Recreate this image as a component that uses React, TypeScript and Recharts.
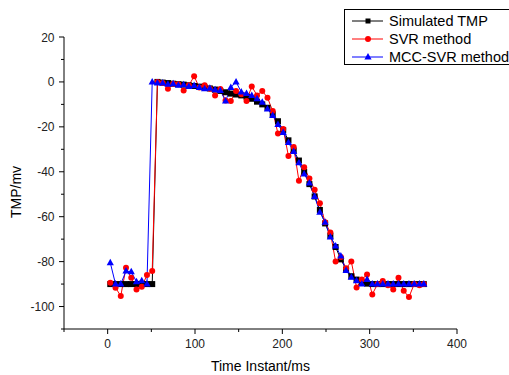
import React from 'react';
import { LineChart, Line, XAxis, YAxis, Legend } from 'recharts';

// time instants (ms)
const timeMs = [
  3, 9, 15, 21, 27, 33, 39, 45, 51, 57,
  63, 69, 75, 81, 87, 93, 99, 105, 111, 117,
  123, 129, 135, 141, 147, 153, 159, 165, 171, 177,
  183, 189, 195, 201, 207, 213, 219, 225, 231, 237,
  243, 249, 255, 261, 267, 273, 279, 285, 291, 297,
  303, 309, 315, 321, 327, 333, 339, 345, 351, 357,
  362,
];

const simulatedTmp = [
  -90, -90, -90, -90, -90, -90, -90, -90, -90, 0,
  -0.3, -0.5, -0.8, -1, -1.2, -1.5, -1.8, -2.1, -2.5, -2.9,
  -3.4, -4, -4.6, -5.2, -5.6, -6, -6.6, -7.5, -8.8, -10,
  -11.5, -14.4, -17.5, -21.5, -26, -30.5, -35, -40, -45.5, -51,
  -57, -63, -68.5, -73.5, -79, -83.5, -86.5, -88, -89.2, -89.8,
  -90, -90, -90, -90, -90, -90, -90, -90, -90, -90,
  -90,
];

const svrMethod = [
  -89.4, -91.6, -95.3, -82.7, -87.2, -92.4, -91.2, -86, -84.2, 0,
  -0.5, -3, -0.8, -1, -3.8, -1.5, 2.5, -2.5, -1.5, -3,
  -6, -3.2, -8.3, -8.5, -4, -5.5, -8.5, -2, -6, -4,
  -7, -13, -23, -21, -33, -29, -44, -38, -43, -48,
  -54, -62.5, -67, -80, -78, -83, -80, -91.5, -88, -85.7,
  -94.6, -90, -88.6, -90.5, -92.4, -87.2, -93, -95.8, -90, -90.5,
  -90,
];

const mccSvrMethod = [
  -80.5, -90, -90, -84.2, -84.5, -89, -88.5, -90, 0, -0.5,
  -0.5, -1, -0.8, -1.5, -1.3, -2, -1.6, -2.5, -3, -2.8,
  -3.5, -3.8, -8.5, -2.5, 0, -4.5, -5.2, -6, -7.5, -9,
  -12, -15, -19, -22.5, -27, -31, -36, -41, -45, -51,
  -58, -62.5, -69, -73, -77.5, -84, -87, -88.5, -90, -88,
  -90, -90, -90, -90, -90, -90, -90, -90, -90, -90,
  -90,
];

const xTicks = [-50, 0, 50, 100, 150, 200, 250, 300, 350, 400];
const yTicks = [-110, -100, -90, -80, -70, -60, -50, -40, -30, -20, -10, 0, 10, 20];

const seriesNames = ['Simulated TMP', 'SVR method', 'MCC-SVR method'];

const chartData = timeMs.map((t, i) => ({
  t,
  sim: simulatedTmp[i],
  svr: svrMethod[i],
  mcc: mccSvrMethod[i],
}));

const FONT = '"Liberation Sans", Arial, sans-serif';

const SquareDot = (props: any) => {
  const { cx, cy, index } = props;
  if (cx == null || cy == null) return null;
  return <rect key={`sq-${index}`} x={cx - 3} y={cy - 3} width={6} height={6} fill="#000" />;
};

const CircleDot = (props: any) => {
  const { cx, cy, index } = props;
  if (cx == null || cy == null) return null;
  return <circle key={`ci-${index}`} cx={cx} cy={cy} r={3} fill="#ff0000" />;
};

const TriangleDot = (props: any) => {
  const { cx, cy, index } = props;
  if (cx == null || cy == null) return null;
  return (
    <polygon
      key={`tr-${index}`}
      points={`${cx},${cy - 4} ${cx - 3.6},${cy + 2.5} ${cx + 3.6},${cy + 2.5}`}
      fill="#0000ff"
    />
  );
};

const XTick = (props: any) => {
  const { x, y, payload } = props;
  const major = payload.value % 100 === 0;
  return (
    <g>
      <line x1={x} y1={y} x2={x} y2={y + (major ? 5 : 3)} stroke="#000" />
      {major && (
        <text x={x} y={y + 19} textAnchor="middle" fontSize={12} fill="#222" fontFamily={FONT}>
          {payload.value}
        </text>
      )}
    </g>
  );
};

const YTick = (props: any) => {
  const { x, y, payload } = props;
  const major = payload.value % 20 === 0;
  return (
    <g>
      <line x1={x} y1={y} x2={x - (major ? 5 : 3)} y2={y} stroke="#000" />
      {major && (
        <text x={x - 9.5} y={y + 4.5} textAnchor="end" fontSize={12} fill="#222" fontFamily={FONT}>
          {payload.value}
        </text>
      )}
    </g>
  );
};

const YLabel = (props: any) => {
  const { viewBox } = props;
  const cx = viewBox.x + 8;
  const cy = viewBox.y + viewBox.height / 2 + 9;
  return (
    <text
      x={cx}
      y={cy}
      dy={5}
      textAnchor="middle"
      fontSize={14}
      fill="#000"
      fontFamily={FONT}
      transform={`rotate(-90, ${cx}, ${cy})`}
    >
      TMP/mv
    </text>
  );
};

const legendMarks = [
  (x: number, y: number) => <rect x={x - 2.5} y={y - 2.5} width={5} height={5} fill="#000" />,
  (x: number, y: number) => <circle cx={x} cy={y} r={3} fill="#ff0000" />,
  (x: number, y: number) => (
    <polygon points={`${x},${y - 4} ${x - 3.6},${y + 2.5} ${x + 3.6},${y + 2.5}`} fill="#0000ff" />
  ),
];
const legendColors = ['#000', '#ff0000', '#0000ff'];

const renderLegend = () => (
  <div
    style={{
      boxSizing: 'border-box',
      width: 170,
      height: 56,
      border: '1px solid #000',
      background: '#fff',
      padding: '2px 0 0 7px',
      fontFamily: FONT,
      fontSize: 14.5,
      color: '#000',
    }}
  >
    {seriesNames.map((name, i) => (
      <div key={name} style={{ display: 'flex', alignItems: 'center', height: 18, lineHeight: '18px' }}>
        <svg width={31} height={18} style={{ display: 'block' }}>
          <line x1={0} y1={9} x2={31} y2={9} stroke={legendColors[i]} strokeWidth={1} />
          {legendMarks[i](16, 9)}
        </svg>
        <span style={{ marginLeft: 6, whiteSpace: 'nowrap' }}>{name}</span>
      </div>
    ))}
  </div>
);

export default function App() {
  return (
    <div style={{ position: 'fixed', left: 0, top: 0, width: 509, height: 375, overflow: 'hidden', background: '#fff' }}>
      <LineChart width={509} height={375} data={chartData} margin={{ top: 37, right: 52, bottom: 0, left: 8 }}>
        <XAxis
          type="number"
          dataKey="t"
          domain={[-50, 400]}
          ticks={xTicks}
          interval={0}
          height={46}
          tickSize={0}
          tickMargin={0}
          tickLine={false}
          axisLine={{ stroke: '#000', strokeWidth: 1 }}
          tick={<XTick />}
          label={{ value: 'Time Instant/ms', position: 'insideBottom', offset: 4, fontSize: 14, fill: '#000', fontFamily: FONT }}
        />
        <YAxis
          type="number"
          domain={[-110, 20]}
          ticks={yTicks}
          interval={0}
          width={56}
          tickSize={0}
          tickMargin={0}
          tickLine={false}
          axisLine={{ stroke: '#000', strokeWidth: 1 }}
          tick={<YTick />}
          label={<YLabel />}
        />
        <Legend
          layout="vertical"
          align="center"
          verticalAlign="middle"
          wrapperStyle={{ position: 'absolute', top: 9, left: 344, width: 170 }}
          content={renderLegend}
        />
        <Line
          dataKey="sim"
          name={seriesNames[0]}
          stroke="#000"
          strokeWidth={1}
          dot={SquareDot}
          activeDot={false}
          isAnimationActive={false}
        />
        <Line
          dataKey="svr"
          name={seriesNames[1]}
          stroke="#ff0000"
          strokeWidth={1}
          dot={CircleDot}
          activeDot={false}
          isAnimationActive={false}
        />
        <Line
          dataKey="mcc"
          name={seriesNames[2]}
          stroke="#0000ff"
          strokeWidth={1}
          dot={TriangleDot}
          activeDot={false}
          isAnimationActive={false}
        />
      </LineChart>
    </div>
  );
}
